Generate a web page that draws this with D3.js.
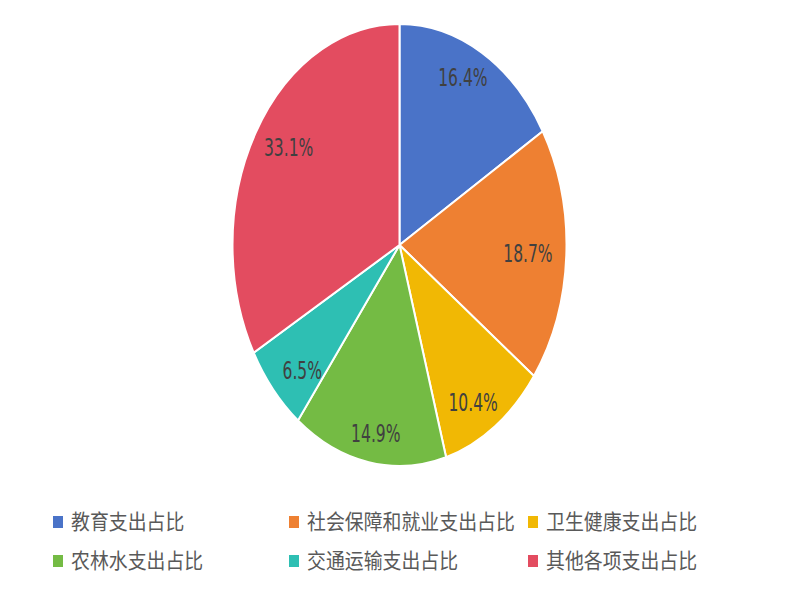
<!DOCTYPE html>
<html>
<head>
<meta charset="utf-8">
<script src="https://cdn.jsdelivr.net/npm/d3@7"></script>
<style>
    html, body { margin: 0; padding: 0; background: #fff; }
    .pie-label { font-family: "Liberation Sans Narrow", "DejaVu Sans Condensed", "Liberation Sans", sans-serif; font-size: 24px; fill: #404040; }
    .legend-text { font-family: "Noto Sans CJK SC", sans-serif; font-size: 21px; fill: #595959; }
</style>
</head>
<body>
<div class="pie-svg"></div>
<script>
var categories = ['教育支出占比', '社会保障和就业支出占比', '卫生健康支出占比', '农林水支出占比', '交通运输支出占比', '其他各项支出占比'];
var values = [16.4, 18.7, 10.4, 14.9, 6.5, 33.1];
var colors = ['#4a73c8', '#ee8032', '#f1b804', '#74bb44', '#2ebfb3', '#e34c60'];

var width = 800,
    height = 600,
    cx = 399.5,
    cy = 245,
    rx = 167,
    ry = 221;

var svg = d3.select('.pie-svg').append('svg')
    .attr('width', width)
    .attr('height', height);

var pie = d3.pie().sort(null).value(function(d) { return d; });
var arcs = pie(values);

var arc = d3.arc().innerRadius(0).outerRadius(ry);

// 椭圆形饼图：按 x 方向压缩
var pieG = svg.append('g')
    .attr('transform', 'translate(' + cx + ',' + cy + ') scale(' + (rx / ry) + ',1)');

pieG.selectAll('path')
    .data(arcs)
    .enter()
    .append('path')
    .attr('d', arc)
    .attr('fill', function(d, i) { return colors[i]; })
    .attr('stroke', '#fff')
    .attr('stroke-width', 2)
    .attr('vector-effect', 'non-scaling-stroke');

// 百分比标签（文字也是窄的）
var labelG = svg.append('g')
    .attr('transform', 'translate(' + cx + ',' + cy + ')');

labelG.selectAll('text')
    .data(arcs)
    .enter()
    .append('text')
    .attr('class', 'pie-label')
    .attr('text-anchor', 'middle')
    .attr('dy', '0.35em')
    .attr('transform', function(d) {
        var a = (d.startAngle + d.endAngle) / 2;
        return 'translate(' + Math.sin(a) * rx * 0.77 + ',' + (-Math.cos(a) * ry * 0.87) + ') scale(0.72,1)';
    })
    .text(function(d) { return d.value.toFixed(1) + '%'; });

// 图例
var legendX = [53, 289, 528],
    legendY = [522, 561];

var legend = svg.append('g')
    .selectAll('g')
    .data(categories)
    .enter()
    .append('g')
    .attr('transform', function(d, i) {
        return 'translate(' + legendX[i % 3] + ',' + legendY[Math.floor(i / 3)] + ')';
    });

legend.append('rect')
    .attr('x', 0)
    .attr('y', -6)
    .attr('width', 10)
    .attr('height', 12)
    .attr('fill', function(d, i) { return colors[i]; });

legend.append('text')
    .attr('class', 'legend-text')
    .attr('transform', 'translate(18,0) scale(0.9,1)')
    .attr('dy', '0.35em')
    .text(function(d) { return d; });
</script>
</body>
</html>
